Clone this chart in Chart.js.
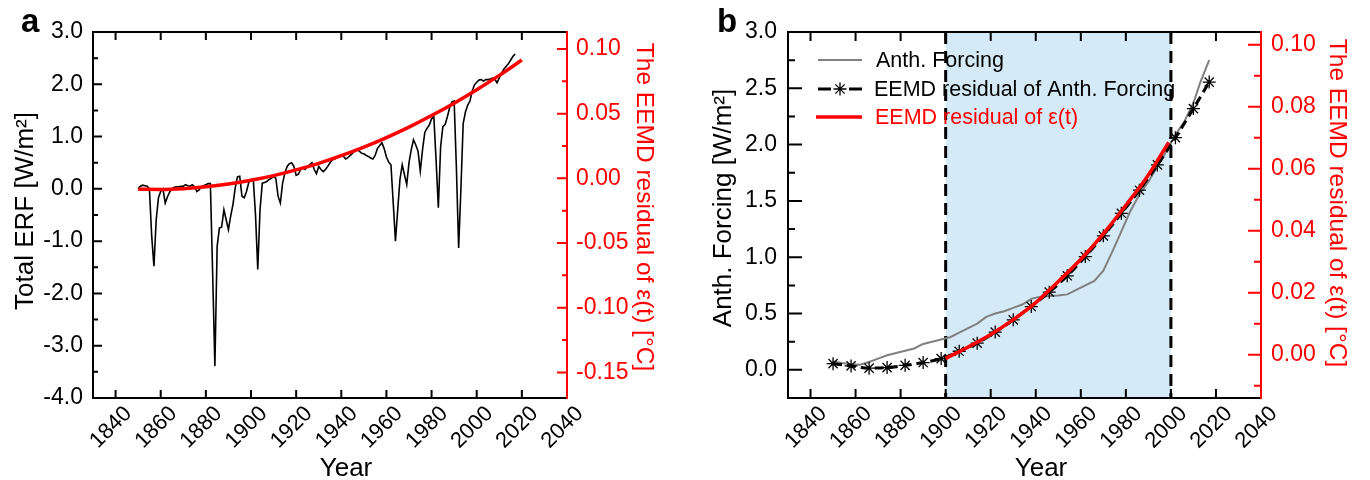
<!DOCTYPE html>
<html>
<head>
<meta charset="utf-8">
<script src="https://cdn.jsdelivr.net/npm/chart.js@4.4.1/dist/chart.umd.min.js"></script>
<style>
  html, body { margin: 0; padding: 0; background: #fff; }
  #wrap { position: relative; width: 1370px; height: 480px; }
  .panel { position: absolute; top: 0; width: 685px; height: 480px; }
  #pa { left: 0; }
  #pb { left: 685px; }
</style>
</head>
<body>
<div id="wrap">
  <div class="panel" id="pa"><canvas id="ca" width="685" height="480"></canvas></div>
  <div class="panel" id="pb"><canvas id="cb" width="685" height="480"></canvas></div>
</div>
<script>
const FONT = "'Liberation Sans', Arial, Helvetica, sans-serif";

// ---------- Panel a: total effective radiative forcing, one value per year ----------
const erfStartYear = 1850;
const totalERF = [
  0.00, 0.05, 0.07, 0.06, 0.05, 0.00, -0.90, -1.48, -0.59, -0.17,   // 1850s
  -0.05, 0.00, -0.27, -0.15, -0.06, 0.00, 0.03, 0.04, 0.04, 0.05,   // 1860s
  0.05, 0.08, 0.06, 0.05, 0.08, 0.04, -0.05, -0.02, 0.04, 0.06,     // 1870s
  0.08, 0.10, 0.10, -1.60, -3.39, -1.10, -0.75, -0.73, -0.40, -0.59, // 1880s
  -0.78, -0.52, -0.30, 0.02, 0.23, 0.24, -0.14, -0.17, -0.05, 0.12, // 1890s
  0.17, 0.19, -0.50, -1.54, -0.40, 0.11, 0.12, 0.14, 0.18, 0.20,    // 1900s
  0.24, 0.20, -0.14, -0.27, 0.11, 0.30, 0.43, 0.48, 0.50, 0.43,     // 1910s
  0.26, 0.28, 0.37, 0.40, 0.37, 0.43, 0.46, 0.50, 0.37, 0.29,       // 1920s
  0.43, 0.37, 0.33, 0.37, 0.43, 0.50, 0.55, 0.57, 0.59, 0.62,       // 1930s
  0.64, 0.62, 0.57, 0.60, 0.64, 0.68, 0.73, 0.75, 0.72, 0.68,       // 1940s
  0.67, 0.64, 0.62, 0.59, 0.57, 0.64, 0.77, 0.83, 0.88, 0.77,       // 1950s
  0.61, 0.51, 0.46, -0.26, -1.00, -0.40, 0.18, 0.46, 0.27, 0.08,    // 1960s
  0.50, 0.75, 0.94, 0.84, 0.72, 0.34, 0.75, 1.08, 1.16, 1.22,       // 1970s
  1.34, 1.38, 0.55, -0.36, 0.80, 1.19, 1.23, 1.38, 1.55, 1.66,      // 1980s
  1.68, 0.40, -1.13, 0.00, 1.25, 1.47, 1.60, 1.68, 1.87, 1.99,      // 1990s
  2.04, 2.08, 2.09, 2.06, 2.09, 2.09, 2.10, 2.12, 2.10, 2.03,       // 2000s
  2.12, 2.21, 2.29, 2.34, 2.39, 2.46, 2.53, 2.58                    // 2010-2017
];
// EEMD residual of epsilon(t) [degC], right axis of panel a
const epsResidualYearsA = [1850, 1860, 1870, 1880, 1890, 1900, 1910, 1920, 1930,
                           1940, 1950, 1960, 1970, 1980, 1990, 2000, 2010, 2020];
const epsResidualA = [-0.0085, -0.0086, -0.0080, -0.0066, -0.0044, -0.0015, 0.0021, 0.0065, 0.0116,
                      0.0175, 0.0241, 0.0315, 0.0396, 0.0485, 0.0581, 0.0685, 0.0796, 0.0914];

// ---------- Panel b: anthropogenic forcing and residuals ----------
const anthYears = [1850, 1854, 1858, 1862, 1866, 1870, 1874, 1878, 1882, 1886, 1890, 1894,
                   1898, 1902, 1906, 1910, 1914, 1918, 1922, 1926, 1930, 1934, 1938, 1942,
                   1946, 1950, 1954, 1958, 1962, 1966, 1970, 1974, 1978, 1982, 1986, 1990,
                   1994, 1998, 2002, 2006, 2010, 2013, 2017];
const anthForcing = [0.074, 0.060, 0.050, 0.045, 0.070, 0.100, 0.130, 0.150, 0.170, 0.190, 0.230, 0.250,
                     0.270, 0.290, 0.330, 0.370, 0.410, 0.470, 0.500, 0.520, 0.550, 0.580, 0.630, 0.650,
                     0.655, 0.660, 0.670, 0.710, 0.750, 0.790, 0.880, 1.050, 1.230, 1.410, 1.555, 1.670,
                     1.805, 1.940, 2.087, 2.205, 2.370, 2.550, 2.750];
const anthResidualYears = [1850, 1858, 1866, 1874, 1882, 1890, 1898, 1906, 1914, 1922, 1930,
                           1938, 1946, 1954, 1962, 1970, 1978, 1986, 1994, 2002, 2010, 2017];
const anthResidual = [0.055, 0.035, 0.015, 0.020, 0.040, 0.065, 0.100, 0.165, 0.237, 0.335, 0.444,
                      0.562, 0.690, 0.835, 1.006, 1.190, 1.390, 1.595, 1.820, 2.062, 2.320, 2.555];
const epsResidualYearsB = [1900, 1910, 1920, 1930, 1940, 1950, 1960, 1970, 1980, 1990, 1999];
const epsResidualB = [-0.0012, 0.0025, 0.0065, 0.0113, 0.0168, 0.0236, 0.0308, 0.0390, 0.0482, 0.0580, 0.0685];
const shadedPeriod = [1900, 2000];

// shared year axis
const yearMin = 1830, yearMax = 2040, yearStep = 20;

const toPoints = (xs, ys) => xs.map((x, i) => ({ x: x, y: ys[i] }));
const erfPoints = totalERF.map((v, i) => ({ x: erfStartYear + i, y: v }));

function yearScale() {
  return {
    type: 'linear', position: 'bottom', min: yearMin, max: yearMax,
    ticks: { stepSize: yearStep, display: false, includeBounds: false },
    grid: { display: false, drawTicks: false }, border: { display: false },
    afterFit(s) { s.height = 82; }
  };
}
function valueScale(pos, min, max, step, width, color, pad, decimals) {
  return {
    type: 'linear', position: pos, min: min, max: max,
    ticks: { stepSize: step, includeBounds: false, padding: pad, color: color,
             font: { family: FONT, size: 23 }, callback: v => Number(v).toFixed(decimals) },
    grid: { display: false, drawTicks: false }, border: { display: false },
    afterFit(s) { s.width = width; }
  };
}

// tick positions: majors at every step, minors half way between
function tickMarks(scale, step) {
  const half = step / 2, out = [];
  for (let k = Math.ceil(scale.min / half - 1e-9); k * half <= scale.max + 1e-9; k++) {
    out.push({ v: k * half, major: k % 2 === 0 });
  }
  return out;
}

function drawStar(ctx, cx, cy, r) {
  for (let k = 0; k < 4; k++) {
    const a = k * Math.PI / 4;
    ctx.moveTo(cx - r * Math.cos(a), cy - r * Math.sin(a));
    ctx.lineTo(cx + r * Math.cos(a), cy + r * Math.sin(a));
  }
}

// axis frame, tick marks, rotated year labels, axis titles and panel letter
function framePlugin(o) {
  return {
    id: 'frame',
    afterDraw(chart) {
      const { ctx, chartArea: a, scales } = chart;
      const x = scales.x, y = scales.y, y2 = scales.y2;
      ctx.save();
      ctx.lineWidth = 2;
      ctx.strokeStyle = '#000';
      ctx.beginPath();
      ctx.moveTo(a.right, a.top); ctx.lineTo(a.left, a.top);
      ctx.lineTo(a.left, a.bottom); ctx.lineTo(a.right, a.bottom);
      ctx.stroke();

      ctx.beginPath();
      x.ticks.forEach(t => {
        const p = x.getPixelForValue(t.value);
        ctx.moveTo(p, a.bottom); ctx.lineTo(p, a.bottom - o.xTick);
        ctx.moveTo(p, a.top); ctx.lineTo(p, a.top + o.xTick);
      });
      tickMarks(y, o.yStep).forEach(t => {
        const p = y.getPixelForValue(t.v);
        ctx.moveTo(a.left, p); ctx.lineTo(a.left + (t.major ? o.yMajor : o.yMinor), p);
      });
      ctx.stroke();

      ctx.strokeStyle = '#ff0000';
      ctx.beginPath();
      ctx.moveTo(a.right, a.top - 1); ctx.lineTo(a.right, a.bottom + 1);
      tickMarks(y2, o.y2Step).forEach(t => {
        const p = y2.getPixelForValue(t.v);
        ctx.moveTo(a.right, p); ctx.lineTo(a.right - (t.major ? o.y2Major : o.y2Minor), p);
      });
      ctx.stroke();

      // rotated year labels
      ctx.fillStyle = '#000';
      ctx.font = '22px ' + FONT;
      ctx.textAlign = 'center';
      ctx.textBaseline = 'middle';
      x.ticks.forEach(t => {
        const p = x.getPixelForValue(t.value);
        ctx.save();
        ctx.translate(p - 4.5, 427.5);
        ctx.rotate(-Math.PI / 4);
        ctx.fillText(String(t.value), 0, 0);
        ctx.restore();
      });

      // axis titles
      ctx.font = '26px ' + FONT;
      ctx.textBaseline = 'alphabetic';
      ctx.fillText('Year', o.xTitleX, 476);
      ctx.save();
      ctx.translate(o.yTitleX, o.yTitleY);
      ctx.rotate(-Math.PI / 2);
      ctx.fillText(o.yTitle, 0, 0);
      ctx.restore();
      ctx.save();
      ctx.fillStyle = '#ff0000';
      ctx.font = '24.5px ' + FONT;
      ctx.translate(o.y2TitleX, o.y2TitleY);
      ctx.rotate(Math.PI / 2);
      ctx.fillText(o.y2Title, 0, 0);
      ctx.restore();

      // panel letter
      ctx.font = 'bold 33px ' + FONT;
      ctx.textAlign = 'left';
      ctx.fillText(o.letter, o.letterX, 32);
      ctx.restore();
    }
  };
}

// shaded analysis period with dashed bounds
const periodPlugin = {
  id: 'period',
  beforeDatasetsDraw(chart) {
    const { ctx, chartArea: a, scales: { x } } = chart;
    const x0 = x.getPixelForValue(shadedPeriod[0]);
    const x1 = x.getPixelForValue(shadedPeriod[1]);
    ctx.save();
    ctx.fillStyle = '#d4eaf7';
    ctx.fillRect(x0, a.top, x1 - x0, a.bottom - a.top);
    ctx.strokeStyle = '#000';
    ctx.lineWidth = 3;
    ctx.setLineDash([12, 7]);
    ctx.beginPath();
    ctx.moveTo(x0, a.top); ctx.lineTo(x0, a.bottom);
    ctx.moveTo(x1, a.top); ctx.lineTo(x1, a.bottom);
    ctx.stroke();
    ctx.restore();
  }
};

// legend of panel b
const legendPlugin = {
  id: 'legendB',
  afterDatasetsDraw(chart) {
    const ctx = chart.ctx;
    const x0 = 133, x1 = 177, tx = 191;
    const rows = [60, 89, 117];
    ctx.save();
    ctx.lineCap = 'butt';
    ctx.strokeStyle = '#808080'; ctx.lineWidth = 2;
    ctx.beginPath(); ctx.moveTo(x0, rows[0]); ctx.lineTo(x1, rows[0]); ctx.stroke();
    ctx.strokeStyle = '#000'; ctx.lineWidth = 3;
    ctx.beginPath();
    ctx.moveTo(x0, rows[1]); ctx.lineTo(x0 + 13, rows[1]);
    ctx.moveTo(x1 - 13, rows[1]); ctx.lineTo(x1, rows[1]);
    ctx.stroke();
    ctx.lineWidth = 1.3;
    ctx.beginPath(); drawStar(ctx, (x0 + x1) / 2, rows[1], 6.5); ctx.stroke();
    ctx.strokeStyle = '#ff0000'; ctx.lineWidth = 3.5;
    ctx.beginPath(); ctx.moveTo(x0 - 2, rows[2]); ctx.lineTo(x1, rows[2]); ctx.stroke();

    ctx.font = '21.5px ' + FONT;
    ctx.textAlign = 'left';
    ctx.textBaseline = 'middle';
    ctx.fillStyle = '#000';
    ctx.fillText('Anth. Forcing', tx, rows[0] + 1);
    ctx.fillText('EEMD residual of Anth. Forcing', tx - 2, rows[1] + 1);
    ctx.fillStyle = '#ff0000';
    ctx.fillText('EEMD residual of ε(t)', tx - 1, rows[2] + 1);
    ctx.restore();
  }
};

const baseOptions = {
  responsive: false,
  animation: false,
  layout: { padding: { top: 32, left: 0, right: 0, bottom: 0 } },
  plugins: { legend: { display: false }, tooltip: { enabled: false } },
  elements: { point: { radius: 0 } }
};

// ---------- chart a ----------
new Chart(document.getElementById('ca'), {
  type: 'line',
  data: {
    datasets: [
      { label: 'EEMD residual of ε(t)', data: toPoints(epsResidualYearsA, epsResidualA), yAxisID: 'y2',
        borderColor: '#ff0000', borderWidth: 3.5, cubicInterpolationMode: 'monotone', order: 1 },
      { label: 'Total ERF', data: erfPoints, yAxisID: 'y',
        borderColor: '#000', borderWidth: 1.6, tension: 0, order: 2 }
    ]
  },
  options: Object.assign({}, baseOptions, {
    scales: {
      x: yearScale(),
      y: valueScale('left', -4, 3, 1, 93, '#000', 10, 1),
      y2: valueScale('right', -0.1698, 0.1131, 0.05, 118, '#ff0000', 9, 2)
    }
  }),
  plugins: [framePlugin({
    xTick: 8, yStep: 1, yMajor: 9, yMinor: 5, y2Step: 0.05, y2Major: 10, y2Minor: 5,
    yTitle: 'Total ERF [W/m²]', yTitleX: 33, yTitleY: 211,
    y2Title: 'The EEMD residual of ε(t) [°C]', y2TitleX: 637, y2TitleY: 207,
    xTitleX: 346, letter: 'a', letterX: 21
  })]
});

// ---------- chart b ----------
new Chart(document.getElementById('cb'), {
  type: 'line',
  data: {
    datasets: [
      { label: 'Anth. Forcing', data: toPoints(anthYears, anthForcing), yAxisID: 'y',
        borderColor: '#808080', borderWidth: 2, tension: 0, order: 3 },
      { label: 'EEMD residual of Anth. Forcing', data: toPoints(anthResidualYears, anthResidual), yAxisID: 'y',
        borderColor: '#000', borderWidth: 3, borderDash: [9, 5], cubicInterpolationMode: 'monotone',
        pointStyle: 'star', pointRadius: 6.5, pointBorderWidth: 1.3, pointBorderColor: '#000', order: 2 },
      { label: 'EEMD residual of ε(t)', data: toPoints(epsResidualYearsB, epsResidualB), yAxisID: 'y2',
        borderColor: '#ff0000', borderWidth: 3.5, cubicInterpolationMode: 'monotone', order: 1 }
    ]
  },
  options: Object.assign({}, baseOptions, {
    scales: {
      x: yearScale(),
      y: valueScale('left', -0.25, 3.0, 0.5, 103, '#000', 11, 1),
      y2: valueScale('right', -0.01397, 0.1041, 0.02, 109, '#ff0000', 10, 2)
    }
  }),
  plugins: [periodPlugin, legendPlugin, framePlugin({
    xTick: 9, yStep: 0.5, yMajor: 14, yMinor: 7, y2Step: 0.02, y2Major: 13, y2Minor: 7,
    yTitle: 'Anth. Forcing [W/m²]', yTitleX: 46, yTitleY: 208,
    y2Title: 'The EEMD residual of ε(t) [°C]', y2TitleX: 645, y2TitleY: 203,
    xTitleX: 356, letter: 'b', letterX: 32
  })]
});
</script>
</body>
</html>
